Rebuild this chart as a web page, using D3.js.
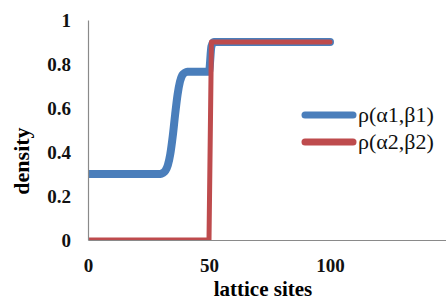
<!DOCTYPE html>
<html>
<head>
<meta charset="utf-8">
<script src="https://cdn.jsdelivr.net/npm/d3@7"></script>
<style>
  body { margin: 0; background: #fff; }
  svg { display: block; }
</style>
</head>
<body>
<div id="chart"></div>
<script>
// values (breakpoints only, flat stretches are straight lines)
const blueSites = [0, 30, 31, 32, 33, 34, 35, 36, 37, 38, 39, 40, 41, 50, 51, 52, 100];
const blueValues = [0.3, 0.3, 0.305, 0.315, 0.34, 0.39, 0.47, 0.57, 0.66, 0.72, 0.75, 0.76, 0.765, 0.765, 0.88, 0.9, 0.9];
const redSites = [0, 50, 51, 100];
const redValues = [0, 0, 0.9, 0.9];
const seriesNames = ['\u03c1(\u03b11,\u03b21)', '\u03c1(\u03b12,\u03b22)'];
const xTicks = [0, 50, 100];
const yTicks = [0, 0.2, 0.4, 0.6, 0.8, 1];
const yTickLabels = ['0', '0.2', '0.4', '0.6', '0.8', '1'];

const W = 446, H = 302;
const blue = '#4a7ebb', red = '#be4b4d', axisCol = '#8a8a8a';
const serif = '"Liberation Serif", "Times New Roman", serif';

let svg = d3.select('#chart')
  .append('svg')
  .attr('width', W)
  .attr('height', H);

let x = d3.scaleLinear().domain([0, 150]).range([88, 451]);
let y = d3.scaleLinear().domain([0, 1]).range([240, 20]);

svg.append('defs').append('clipPath')
  .attr('id', 'plot')
  .append('rect')
  .attr('x', 88).attr('y', 20)
  .attr('width', W - 88).attr('height', 220);

let line = d3.line()
  .x(d => x(d[0]))
  .y(d => y(d[1]))
  .curve(d3.curveMonotoneX);

let blueData = blueSites.map((s, i) => [s, blueValues[i]]);
let redData = redSites.map((s, i) => [s, redValues[i]]);

let plot = svg.append('g').attr('clip-path', 'url(#plot)');

plot.append('path')
  .datum(blueData)
  .attr('d', line)
  .attr('fill', 'none')
  .attr('stroke', blue)
  .attr('stroke-width', 8)
  .attr('stroke-linecap', 'round')
  .attr('stroke-linejoin', 'round');

plot.append('path')
  .datum(redData)
  .attr('d', d3.line().x(d => x(d[0])).y(d => y(d[1])))
  .attr('fill', 'none')
  .attr('stroke', red)
  .attr('stroke-width', 5)
  .attr('stroke-linecap', 'round')
  .attr('stroke-linejoin', 'round');

// axes
let xAxis = svg.append('g')
  .attr('transform', `translate(0,${y(0)})`)
  .call(d3.axisBottom(x).tickValues(xTicks).tickSize(0).tickPadding(19));

let yAxis = svg.append('g')
  .attr('transform', `translate(${x(0)},0)`)
  .call(d3.axisLeft(y).tickValues(yTicks).tickFormat((d, i) => yTickLabels[i]).tickSize(0).tickPadding(17));

[xAxis, yAxis].forEach(a => {
  a.select('.domain').attr('stroke', axisCol).attr('stroke-width', 1.2);
  a.selectAll('text')
    .style('font-family', serif)
    .style('font-weight', 'bold')
    .style('font-size', '19px')
    .attr('fill', '#111');
});

svg.append('text')
  .text('lattice sites')
  .attr('x', 263)
  .attr('y', 296)
  .attr('text-anchor', 'middle')
  .style('font-family', serif)
  .style('font-weight', 'bold')
  .style('font-size', '21px');

svg.append('text')
  .text('density')
  .attr('transform', 'translate(29,161) rotate(-90)')
  .attr('text-anchor', 'middle')
  .style('font-family', serif)
  .style('font-weight', 'bold')
  .style('font-size', '22px');

// legend
let legend = svg.selectAll('.legend')
  .data(seriesNames)
  .enter()
  .append('g')
  .attr('class', 'legend')
  .attr('transform', (d, i) => `translate(305,${115 + i * 27})`);

legend.append('line')
  .attr('x1', 0).attr('x2', 48)
  .attr('stroke', (d, i) => i === 0 ? blue : red)
  .attr('stroke-width', 7)
  .attr('stroke-linecap', 'round');

legend.append('text')
  .text(d => d)
  .attr('x', 53)
  .attr('dy', '0.33em')
  .style('font-family', serif)
  .style('font-size', '22px')
  .attr('fill', '#111');
</script>
</body>
</html>
